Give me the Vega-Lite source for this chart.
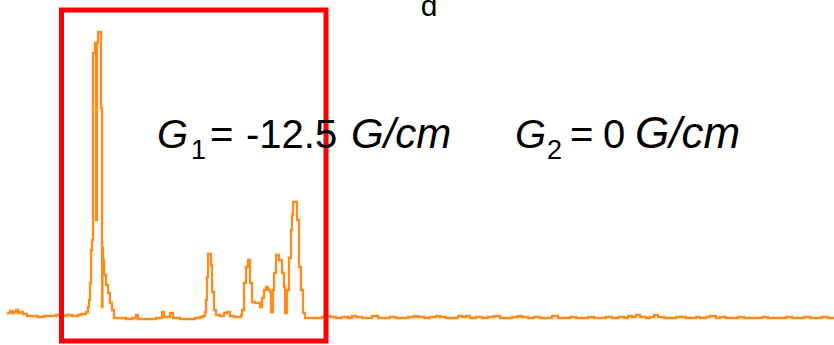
{
  "$schema": "https://vega.github.io/schema/vega-lite/v6.json",
  "autosize": {"type": "fit", "contains": "padding"},
  "width": 834,
  "height": 345,
  "padding": 0,
  "background": "white",
  "config": {"view": {"stroke": null}},
  "datasets": {
    "spectrum": [
      {"shift": 7, "v": 4}, {"shift": 10, "v": 6}, {"shift": 12, "v": 4}, {"shift": 14, "v": 5}, {"shift": 16, "v": 7}, {"shift": 18, "v": 4}, {"shift": 20, "v": 5}, {"shift": 23, "v": 3}, {"shift": 27, "v": 1}, {"shift": 32, "v": 1}, {"shift": 38, "v": 0}, {"shift": 44, "v": 1}, {"shift": 50, "v": 1}, {"shift": 56, "v": 2}, {"shift": 60, "v": 1}, {"shift": 66, "v": 2}, {"shift": 72, "v": 1}, {"shift": 78, "v": 2}, {"shift": 81, "v": 3}, {"shift": 84, "v": 3}, {"shift": 86, "v": 5}, {"shift": 88, "v": 10}, {"shift": 89, "v": 17}, {"shift": 90, "v": 34}, {"shift": 91, "v": 67}, {"shift": 92, "v": 77}, {"shift": 93, "v": 264}, {"shift": 95, "v": 274}, {"shift": 96, "v": 97}, {"shift": 97, "v": 274}, {"shift": 98, "v": 285}, {"shift": 100, "v": 285}, {"shift": 101, "v": 209}, {"shift": 102, "v": 10}, {"shift": 102.5, "v": 69}, {"shift": 103, "v": 57}, {"shift": 104, "v": 42}, {"shift": 106, "v": 32}, {"shift": 108, "v": 24}, {"shift": 110, "v": 14}, {"shift": 112, "v": 7}, {"shift": 114, "v": -1}, {"shift": 120, "v": -1}, {"shift": 126, "v": -2}, {"shift": 132, "v": -1}, {"shift": 136, "v": 2}, {"shift": 138, "v": -2}, {"shift": 145, "v": -2}, {"shift": 150, "v": -2}, {"shift": 156, "v": -1}, {"shift": 162, "v": 5}, {"shift": 164, "v": 0}, {"shift": 170, "v": 4}, {"shift": 173, "v": -1}, {"shift": 180, "v": -2}, {"shift": 188, "v": -2}, {"shift": 195, "v": -1}, {"shift": 200, "v": 0}, {"shift": 203, "v": 1}, {"shift": 205, "v": 5}, {"shift": 206, "v": 17}, {"shift": 207, "v": 40}, {"shift": 208, "v": 63}, {"shift": 211, "v": 52}, {"shift": 212, "v": 25}, {"shift": 214, "v": 7}, {"shift": 216, "v": 2}, {"shift": 220, "v": 1}, {"shift": 224, "v": 4}, {"shift": 227, "v": 5}, {"shift": 230, "v": 1}, {"shift": 234, "v": 0}, {"shift": 238, "v": 0}, {"shift": 241, "v": 2}, {"shift": 242, "v": 7}, {"shift": 244, "v": 34}, {"shift": 246, "v": 50}, {"shift": 248, "v": 57}, {"shift": 250, "v": 34}, {"shift": 252, "v": 15}, {"shift": 255, "v": 14}, {"shift": 260, "v": 10}, {"shift": 262, "v": 19}, {"shift": 264, "v": 27}, {"shift": 266, "v": 30}, {"shift": 268, "v": 27}, {"shift": 270, "v": 25}, {"shift": 271, "v": 5}, {"shift": 273, "v": 27}, {"shift": 274, "v": 44}, {"shift": 276, "v": 62}, {"shift": 279, "v": 57}, {"shift": 282, "v": 44}, {"shift": 284, "v": 30}, {"shift": 285, "v": 4}, {"shift": 287, "v": 27}, {"shift": 289, "v": 59}, {"shift": 291, "v": 87}, {"shift": 292, "v": 102}, {"shift": 293, "v": 115}, {"shift": 297, "v": 97}, {"shift": 299, "v": 50}, {"shift": 301, "v": 27}, {"shift": 303, "v": 4}, {"shift": 305, "v": -1}, {"shift": 310, "v": -1}, {"shift": 316, "v": -1}, {"shift": 322, "v": 0},
      {"shift": 325, "v": 1}, {"shift": 330, "v": 0}, {"shift": 336, "v": -1}, {"shift": 342, "v": 0}, {"shift": 348, "v": -1}, {"shift": 352, "v": 1}, {"shift": 356, "v": 0}, {"shift": 362, "v": -1}, {"shift": 368, "v": -1}, {"shift": 372, "v": 1}, {"shift": 378, "v": -1}, {"shift": 384, "v": -1}, {"shift": 390, "v": 0}, {"shift": 396, "v": -1}, {"shift": 402, "v": -1}, {"shift": 408, "v": 0}, {"shift": 414, "v": 1}, {"shift": 418, "v": 0}, {"shift": 424, "v": -1}, {"shift": 430, "v": 0}, {"shift": 436, "v": 1}, {"shift": 440, "v": 0}, {"shift": 446, "v": -1}, {"shift": 452, "v": -1}, {"shift": 458, "v": 1}, {"shift": 462, "v": 0}, {"shift": 466, "v": 1}, {"shift": 470, "v": -1}, {"shift": 476, "v": 0}, {"shift": 482, "v": -1}, {"shift": 488, "v": 0}, {"shift": 494, "v": 1}, {"shift": 500, "v": -1}, {"shift": 506, "v": -1}, {"shift": 512, "v": 0}, {"shift": 518, "v": 1}, {"shift": 522, "v": 0}, {"shift": 528, "v": -1}, {"shift": 534, "v": 0}, {"shift": 540, "v": -1}, {"shift": 546, "v": -1}, {"shift": 552, "v": 1}, {"shift": 558, "v": -1}, {"shift": 564, "v": -1}, {"shift": 570, "v": 0}, {"shift": 576, "v": -1}, {"shift": 582, "v": -1}, {"shift": 588, "v": 0}, {"shift": 594, "v": -1}, {"shift": 600, "v": -1}, {"shift": 606, "v": 0}, {"shift": 612, "v": -1}, {"shift": 618, "v": 0}, {"shift": 624, "v": -1}, {"shift": 628, "v": 1}, {"shift": 632, "v": 0}, {"shift": 636, "v": 2}, {"shift": 640, "v": 0}, {"shift": 646, "v": -1}, {"shift": 650, "v": 0}, {"shift": 654, "v": 2}, {"shift": 658, "v": 0}, {"shift": 664, "v": -1}, {"shift": 670, "v": -1}, {"shift": 676, "v": 0}, {"shift": 680, "v": 0}, {"shift": 686, "v": -1}, {"shift": 690, "v": -1}, {"shift": 696, "v": 0}, {"shift": 700, "v": -1}, {"shift": 706, "v": 0}, {"shift": 710, "v": 1}, {"shift": 716, "v": -1}, {"shift": 720, "v": 0}, {"shift": 726, "v": -1}, {"shift": 732, "v": -1}, {"shift": 738, "v": 0}, {"shift": 744, "v": -1}, {"shift": 750, "v": -1}, {"shift": 756, "v": -1}, {"shift": 762, "v": 0}, {"shift": 768, "v": -1}, {"shift": 774, "v": -1}, {"shift": 780, "v": -1}, {"shift": 786, "v": 0}, {"shift": 792, "v": -1}, {"shift": 798, "v": -1}, {"shift": 804, "v": 0}, {"shift": 810, "v": -1}, {"shift": 816, "v": -1}, {"shift": 822, "v": 0}, {"shift": 828, "v": -1}, {"shift": 834, "v": -1}
    ],
    "labels": [
      {"txt": "G", "part": "g1"},
      {"txt": "1", "part": "s1"},
      {"txt": "=", "part": "q1"},
      {"txt": "-12.5", "part": "n1"},
      {"txt": "G/cm", "part": "u1"},
      {"txt": "G", "part": "g2"},
      {"txt": "2", "part": "s2"},
      {"txt": "=", "part": "q2"},
      {"txt": "0", "part": "n2"},
      {"txt": "G/cm", "part": "u2"},
      {"txt": "d", "part": "top"}
    ]
  },
  "data": {"name": "spectrum"},
  "layer": [
    {
      "mark": {"type": "line", "interpolate": "step-after", "color": "#ff8c1a", "strokeWidth": 2.3, "clip": true},
      "encoding": {
        "x": {"field": "shift", "type": "quantitative", "scale": {"domain": [0, 834], "nice": false, "zero": false}, "axis": null},
        "y": {"field": "v", "type": "quantitative", "scale": {"domain": [-28, 317], "nice": false, "zero": false}, "axis": null}
      }
    },
    {
      "data": {"values": [{"box": "selection"}]},
      "mark": {"type": "rect", "fill": null, "fillOpacity": 0, "stroke": "#ff0000", "strokeWidth": 5, "clip": true},
      "encoding": {
        "x": {"datum": 61.5, "type": "quantitative"},
        "x2": {"datum": 326},
        "y": {"datum": 307, "type": "quantitative"},
        "y2": {"datum": -24}
      }
    },
    {
      "data": {"name": "labels"},
      "transform": [{"filter": "datum.part === 'g1'"}],
      "mark": {"type": "text", "align": "left", "baseline": "alphabetic", "font": "Liberation Sans", "fontStyle": "italic", "fontSize": 40, "color": "black", "clip": true},
      "encoding": {"text": {"field": "txt"}, "x": {"datum": 157, "type": "quantitative"}, "y": {"datum": 169, "type": "quantitative"}}
    },
    {
      "data": {"name": "labels"},
      "transform": [{"filter": "datum.part === 's1'"}],
      "mark": {"type": "text", "align": "left", "baseline": "alphabetic", "font": "Liberation Sans", "fontSize": 27, "color": "black", "clip": true},
      "encoding": {"text": {"field": "txt"}, "x": {"datum": 191, "type": "quantitative"}, "y": {"datum": 158, "type": "quantitative"}}
    },
    {
      "data": {"name": "labels"},
      "transform": [{"filter": "datum.part === 'q1'"}],
      "mark": {"type": "text", "align": "left", "baseline": "alphabetic", "font": "Liberation Sans", "fontSize": 40, "color": "black", "clip": true},
      "encoding": {"text": {"field": "txt"}, "x": {"datum": 210, "type": "quantitative"}, "y": {"datum": 169, "type": "quantitative"}}
    },
    {
      "data": {"name": "labels"},
      "transform": [{"filter": "datum.part === 'n1'"}],
      "mark": {"type": "text", "align": "left", "baseline": "alphabetic", "font": "Liberation Sans", "fontSize": 40, "color": "black", "clip": true},
      "encoding": {"text": {"field": "txt"}, "x": {"datum": 246, "type": "quantitative"}, "y": {"datum": 169, "type": "quantitative"}}
    },
    {
      "data": {"name": "labels"},
      "transform": [{"filter": "datum.part === 'u1'"}],
      "mark": {"type": "text", "align": "left", "baseline": "alphabetic", "font": "Liberation Sans", "fontStyle": "italic", "fontSize": 42, "color": "black", "clip": true},
      "encoding": {"text": {"field": "txt"}, "x": {"datum": 351, "type": "quantitative"}, "y": {"datum": 169, "type": "quantitative"}}
    },
    {
      "data": {"name": "labels"},
      "transform": [{"filter": "datum.part === 'g2'"}],
      "mark": {"type": "text", "align": "left", "baseline": "alphabetic", "font": "Liberation Sans", "fontStyle": "italic", "fontSize": 40, "color": "black", "clip": true},
      "encoding": {"text": {"field": "txt"}, "x": {"datum": 515, "type": "quantitative"}, "y": {"datum": 169, "type": "quantitative"}}
    },
    {
      "data": {"name": "labels"},
      "transform": [{"filter": "datum.part === 's2'"}],
      "mark": {"type": "text", "align": "left", "baseline": "alphabetic", "font": "Liberation Sans", "fontSize": 27, "color": "black", "clip": true},
      "encoding": {"text": {"field": "txt"}, "x": {"datum": 547, "type": "quantitative"}, "y": {"datum": 158, "type": "quantitative"}}
    },
    {
      "data": {"name": "labels"},
      "transform": [{"filter": "datum.part === 'q2'"}],
      "mark": {"type": "text", "align": "left", "baseline": "alphabetic", "font": "Liberation Sans", "fontSize": 40, "color": "black", "clip": true},
      "encoding": {"text": {"field": "txt"}, "x": {"datum": 570, "type": "quantitative"}, "y": {"datum": 169, "type": "quantitative"}}
    },
    {
      "data": {"name": "labels"},
      "transform": [{"filter": "datum.part === 'n2'"}],
      "mark": {"type": "text", "align": "left", "baseline": "alphabetic", "font": "Liberation Sans", "fontSize": 40, "color": "black", "clip": true},
      "encoding": {"text": {"field": "txt"}, "x": {"datum": 603, "type": "quantitative"}, "y": {"datum": 169, "type": "quantitative"}}
    },
    {
      "data": {"name": "labels"},
      "transform": [{"filter": "datum.part === 'u2'"}],
      "mark": {"type": "text", "align": "left", "baseline": "alphabetic", "font": "Liberation Sans", "fontStyle": "italic", "fontSize": 44, "color": "black", "clip": true},
      "encoding": {"text": {"field": "txt"}, "x": {"datum": 635, "type": "quantitative"}, "y": {"datum": 169, "type": "quantitative"}}
    },
    {
      "data": {"name": "labels"},
      "transform": [{"filter": "datum.part === 'top'"}],
      "mark": {"type": "text", "align": "center", "baseline": "alphabetic", "font": "Liberation Sans", "fontSize": 30, "color": "black", "clip": true},
      "encoding": {"text": {"field": "txt"}, "x": {"datum": 429, "type": "quantitative"}, "y": {"datum": 301, "type": "quantitative"}}
    }
  ]
}
